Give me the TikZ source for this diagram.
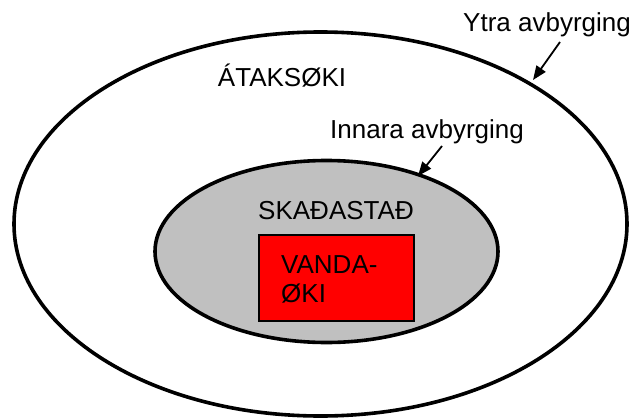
\documentclass[tikz,border=0pt]{standalone}
\usepackage{fontspec}
\setmainfont{Liberation Sans}
\usetikzlibrary{arrows.meta}
\definecolor{silvergray}{HTML}{C0C0C0}
\definecolor{pure red}{HTML}{FF0000}
\begin{document}
\begin{tikzpicture}[x=1pt,y=-1pt,
  lbl/.style={inner sep=0pt, font=\fontsize{26}{29}\selectfont},
  ring/.style={draw=black, line width=3.6pt},
  pointer/.style={draw=black, line width=1.8pt, -{Triangle[length=14pt,width=11pt]}}]
\useasboundingbox (0,0) rectangle (630,420);
\fill[white] (0,0) rectangle (630,420);
% outer ellipse
\draw[ring] (320.5,224) ellipse [x radius=306.5, y radius=192];
% inner ellipse
\draw[ring, fill=silvergray] (326.5,251.5) ellipse [x radius=171.5, y radius=91];
% red box
\node[draw=black, line width=1.6pt, fill=pure red, minimum width=155pt, minimum height=86pt, inner sep=0pt] (box) at (336.5,278) {};
% texts
\node[lbl, anchor=base] (ataks) at (282,87) {ÁTAKSØKI};
\node[lbl, anchor=base] (skada) at (336,219) {SKAÐASTAÐ};
\node[lbl, anchor=base west] (vanda1) at (281,273) {VANDA-};
\node[lbl, anchor=base west] (vanda2) at (281,302) {ØKI};
\node[lbl, anchor=base west] (innara) at (330,139) {Innara avbyrging};
\node[lbl, anchor=base west] (ytra) at (463,32) {Ytra avbyrging};
% arrows
\coordinate (ytraStart) at (560,42);
\coordinate (ytraTip) at (533,80);
\coordinate (innStart) at (442,146);
\coordinate (innTip) at (418,176);
\draw[pointer] (ytraStart) -- (ytraTip);
\draw[pointer] (innStart) -- (innTip);
\end{tikzpicture}
\end{document}
